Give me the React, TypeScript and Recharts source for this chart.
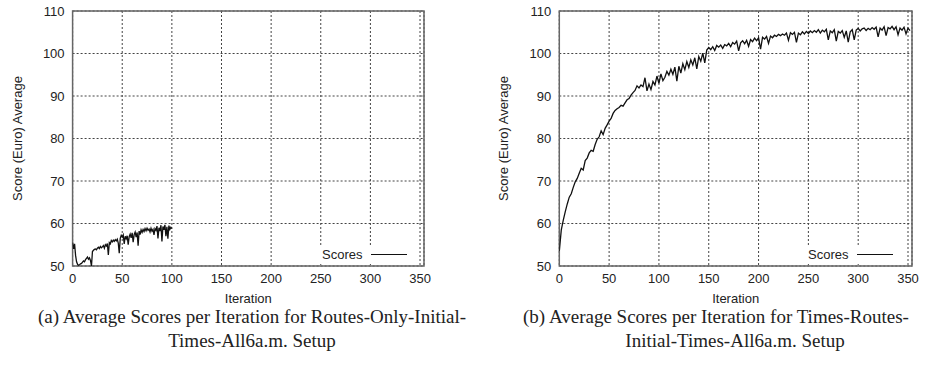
import React from 'react';
import { LineChart, Line, XAxis, YAxis, CartesianGrid, ReferenceArea } from 'recharts';

// scores per iteration, routes-only setup (iterations 0..100)
const routesOnlyScores = [
  55.5, 54.0, 55.2, 52.5, 51.0, 50.4, 50.2, 50.3, 50.5, 50.6,
  50.9, 51.2, 51.0, 51.5, 51.8, 52.1, 51.6, 51.9, 51.3, 50.0,
  53.4, 53.7, 53.9, 54.0, 53.8, 54.2, 54.4, 54.1, 54.6, 54.3,
  54.5, 54.8, 54.2, 55.0, 54.7, 55.3, 52.6, 55.5, 55.2, 56.0,
  55.7, 56.1, 55.8, 56.2, 55.9, 56.3, 55.4, 53.0, 56.5, 57.2,
  56.8, 57.3, 55.2, 57.0, 56.4, 57.1, 55.0, 56.9, 57.5, 56.6,
  57.8, 55.6, 57.4, 58.0, 56.8, 57.9, 54.8, 58.2, 57.4, 58.5,
  57.9, 58.6, 58.1, 58.8, 58.3, 58.9, 58.4, 58.7, 58.0, 58.9,
  58.2, 58.6, 57.3, 58.8, 58.4, 59.4, 56.5, 59.0, 58.2, 59.6,
  55.8, 59.3, 58.5, 59.7, 57.0, 59.2, 56.4, 59.5, 58.6, 59.1,
  58.8,
];

// scores per iteration, times-routes setup (every 2nd iteration, 0..352)
const timesRoutesStep = 2;
const timesRoutesScores = [
  53.5, 58.5, 60.8, 62.8, 64.6, 66.2, 67.0, 68.5, 69.8, 70.6,
  71.8, 73.0, 72.6, 74.8, 75.4, 76.6, 77.2, 77.0, 78.6, 79.8,
  80.4, 81.8, 80.9, 82.4, 83.2, 84.1, 84.7, 85.9, 86.6, 87.0,
  87.3, 87.8, 87.6, 88.4, 89.1, 89.4, 90.2, 90.8, 91.3, 92.4,
  91.9, 92.6, 92.2, 94.3, 91.2, 92.8, 91.5, 93.4, 92.6, 94.7,
  93.0, 95.2, 93.6, 94.4, 95.8, 94.9, 96.3, 95.1, 96.8, 93.5,
  97.0, 95.4, 97.6, 96.2, 98.1, 96.7, 98.5, 97.3, 99.0, 96.4,
  99.3, 98.2, 100.1, 97.8, 100.8, 101.4, 100.9, 101.6, 100.7, 101.9,
  101.5, 102.0, 101.2, 102.1, 101.8, 102.4, 101.6, 102.6, 102.2, 102.9,
  100.6, 102.5, 103.0, 102.3, 103.1, 101.7, 103.3, 102.8, 103.6, 103.0,
  103.7, 101.0, 103.8, 103.4, 104.0, 102.4, 104.1, 103.7, 104.3, 104.0,
  104.5, 104.2, 104.6, 104.3, 104.8, 103.1, 104.9, 104.5, 105.0, 102.6,
  104.8, 104.4, 105.1, 104.6, 105.2, 104.7, 105.3, 104.9, 105.4, 105.0,
  105.6, 104.8, 105.5, 105.1, 105.7, 103.2, 105.3, 104.9, 105.6, 102.9,
  105.2, 104.8, 105.4, 103.8, 105.3, 102.7, 105.1, 105.6, 103.2, 105.5,
  105.9, 105.3, 105.8, 106.0, 105.4, 105.9, 105.6, 106.1, 105.7, 106.2,
  103.9, 106.0, 105.5, 106.3, 104.2, 106.1, 105.8, 106.4, 105.6, 106.3,
  104.4, 106.0, 105.5, 106.2, 104.6, 106.0, 105.4,
];

const xTicks = [0, 50, 100, 150, 200, 250, 300, 350];
const yTicks = [50, 60, 70, 80, 90, 100, 110];
const captionA = ['(a) Average Scores per Iteration for Routes-Only-Initial-', 'Times-All6a.m. Setup'];
const captionB = ['(b) Average Scores per Iteration for Times-Routes-', 'Initial-Times-All6a.m. Setup'];

const routesOnlyData = routesOnlyScores.map((score, i) => ({ iteration: i, score }));
const timesRoutesData = timesRoutesScores.map((score, i) => ({ iteration: i * timesRoutesStep, score }));

const SANS = '"Liberation Sans", Arial, Helvetica, sans-serif';
const SERIF = '"Liberation Serif", "Times New Roman", serif';
const TXT = '#222';

const YTitle = ({ cx }: { cx: number }) => (
  <text
    x={cx}
    y={138.5}
    transform={`rotate(-90 ${cx} 138.5)`}
    textAnchor="middle"
    dominantBaseline="central"
    fontSize={13}
    fontFamily={SANS}
    fill={TXT}
  >
    Score (Euro) Average
  </text>
);

type ChartProps = {
  data: { iteration: number; score: number }[];
  left: number;
  axisWidth: number;
  rightMargin: number;
  titleX: number;
  legendX: number;
};

const ScoreChart = ({ data, left, axisWidth, rightMargin, titleX, legendX }: ChartProps) => (
  <div style={{ position: 'absolute', left, top: 0, width: 470, height: 306 }}>
    <LineChart width={470} height={306} data={data} margin={{ top: 11, right: rightMargin, bottom: 12, left: 0 }}>
      <CartesianGrid stroke="#444" strokeDasharray="2 2" strokeWidth={1} />
      <XAxis
        dataKey="iteration"
        type="number"
        domain={[0, 354]}
        ticks={xTicks}
        allowDataOverflow
        height={28}
        tickLine={false}
        axisLine={false}
        tick={{ fontSize: 13, fontFamily: SANS, fill: TXT }}
        label={{ value: 'Iteration', position: 'bottom', offset: 0, fontSize: 13, fontFamily: SANS, fill: TXT }}
      />
      <YAxis
        type="number"
        domain={[50, 110]}
        ticks={yTicks}
        width={axisWidth}
        tickLine={false}
        axisLine={false}
        tick={{ fontSize: 13, fontFamily: SANS, fill: TXT }}
        label={<YTitle cx={titleX} />}
      />
      <ReferenceArea x1={0} x2={354} y1={50} y2={110} fill="none" stroke="#666" strokeWidth={1.5} ifOverflow="visible" />
      <Line
        type="linear"
        dataKey="score"
        stroke="#111"
        strokeWidth={1.3}
        dot={false}
        isAnimationActive={false}
      />
    </LineChart>
    <div
      style={{
        position: 'absolute',
        left: legendX - 4,
        top: 245,
        width: 98,
        height: 19,
        background: '#fff',
        display: 'flex',
        alignItems: 'center',
        fontFamily: SANS,
        fontSize: 13,
        color: TXT,
      }}
    >
      <span style={{ marginLeft: 4 }}>Scores</span>
      <span style={{ marginLeft: 9, width: 36, height: 0, borderTop: '1.3px solid #111' }} />
    </div>
  </div>
);

const CaptionLine = ({ text, center, top }: { text: string; center: number; top: number }) => (
  <div
    style={{
      position: 'absolute',
      left: center - 250,
      top,
      width: 500,
      textAlign: 'center',
      whiteSpace: 'nowrap',
      fontFamily: SERIF,
      fontSize: 19,
      lineHeight: '20px',
      color: TXT,
    }}
  >
    {text}
  </div>
);

export default function App() {
  return (
    <div style={{ position: 'absolute', left: 0, top: 0, width: 935, height: 371, background: '#fff', overflow: 'hidden' }}>
      <ScoreChart data={routesOnlyData} left={0} axisWidth={72.6} rightMargin={46} titleX={17} legendX={322} />
      <ScoreChart data={timesRoutesData} left={465} axisWidth={94.3} rightMargin={23} titleX={38.3} legendX={343} />
      <CaptionLine text={captionA[0]} center={252} top={307} />
      <CaptionLine text={captionA[1]} center={252} top={331} />
      <CaptionLine text={captionB[0]} center={716} top={307} />
      <CaptionLine text={captionB[1]} center={735} top={331} />
    </div>
  );
}
